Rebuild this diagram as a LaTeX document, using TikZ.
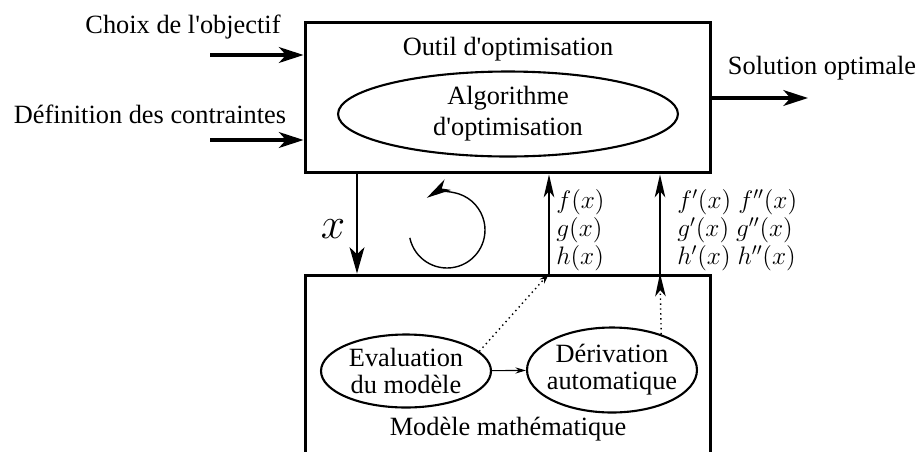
\documentclass[tikz,border=0pt]{standalone}
\usepackage{fontspec}
\setmainfont{Liberation Serif}
\usetikzlibrary{arrows.meta,shapes.geometric}
\tikzset{
  bloc/.style={draw,rectangle,line width=1.7pt},
  bulle/.style={draw,ellipse,line width=1.2pt,align=center,inner xsep=-4pt,inner ysep=-1pt},
  texte/.style={anchor=base},
  maths/.style={anchor=west,align=left,inner sep=0pt,font=\fontsize{14.4}{16}\selectfont},
  grosse/.style={line width=1.8pt,-{Stealth[length=14pt,width=9pt,inset=4pt]}},
  fine/.style={line width=0.7pt,-{Stealth[length=15pt,width=8.5pt,inset=4pt]}},
  retour/.style={line width=1pt,-{Stealth[length=13pt,width=6pt,inset=3.5pt]}},
  pointe/.style={line width=0.6pt,-{Stealth[length=6pt,width=3.5pt]}},
  pointille/.style={line width=0.8pt,dotted},
}
\begin{document}
\begin{tikzpicture}[x=0.02cm,y=0.02cm,font=\fontsize{15}{15.4}\selectfont]
    \useasboundingbox (0,0) rectangle (921,-451);
    % blocs
    \node[bloc,minimum width=8.12cm,minimum height=3.02cm] (outil) at (508,-97.5) {};
    \node[bloc,minimum width=8.12cm,minimum height=4.1cm] (modele) at (508,-377.5) {};
    \node[texte] (titreoutil) at (508,-55) {Outil d\textquotesingle optimisation};
    \node[texte] (titremodele) at (508,-435) {Modèle mathématique};
    \node[bulle,minimum width=6.8cm,minimum height=1.7cm,font=\fontsize{15}{17.5}\selectfont] (algo) at (508,-114) {Algorithme\\d\textquotesingle optimisation};
    \node[bulle,minimum width=3.4cm,minimum height=1.46cm] (eval) at (406,-371) {Evaluation\\du modèle};
    \node[bulle,minimum width=3.4cm,minimum height=1.7cm] (deriv) at (612,-370) {Dérivation\\automatique};
    % entrees et sortie
    \node[texte] (choix) at (183,-33) {Choix de l\textquotesingle objectif};
    \node[texte] (contraintes) at (150,-123) {Définition des contraintes};
    \node[texte] (solution) at (822,-74) {Solution optimale};
    \coordinate (e1) at (210,-55);
    \coordinate (e2) at (210,-140);
    \coordinate (s) at (808,-98);
    \draw[grosse] (e1) -- (e1 -| outil.west);
    \draw[grosse] (e2) -- (e2 -| outil.west);
    \draw[grosse] (s -| outil.east) -- (s);
    % boucle
    \coordinate (px) at (357,0);
    \coordinate (pf) at (549,0);
    \coordinate (pd) at (660,0);
    \draw[fine] (px |- outil.south) -- (px |- modele.north);
    \node (labelx) at (333,-229) {\fontsize{24}{24}\selectfont $x$};
    \coordinate (boucle) at (447,-230);
    \draw[line width=0.8pt,-{Stealth[length=14pt,width=7pt,inset=4pt]}] (boucle) ++(192:0.76cm) arc[start angle=192,end angle=482,radius=0.76cm];
    \draw[retour] (pf |- modele.north) -- (pf |- outil.south);
    \draw[retour] (pd |- modele.north) -- (pd |- outil.south);
    \draw[pointille,-{Stealth[length=6pt,width=3.5pt]}] (eval.15) -- (pf |- modele.north);
    \draw[pointille,-{Stealth[length=13pt,width=6pt,inset=3.5pt]}] (deriv.36) -- (pd |- modele.north);
    \draw[pointe] (eval) -- (deriv);
    \node[maths] (fx) at (556,-230) {$f(x)$\\$g(x)$\\$h(x)$};
    \node[maths] (dfx) at (677,-230) {$f'(x)\;f''(x)$\\$g'(x)\;g''(x)$\\$h'(x)\;h''(x)$};
\end{tikzpicture}
\end{document}
